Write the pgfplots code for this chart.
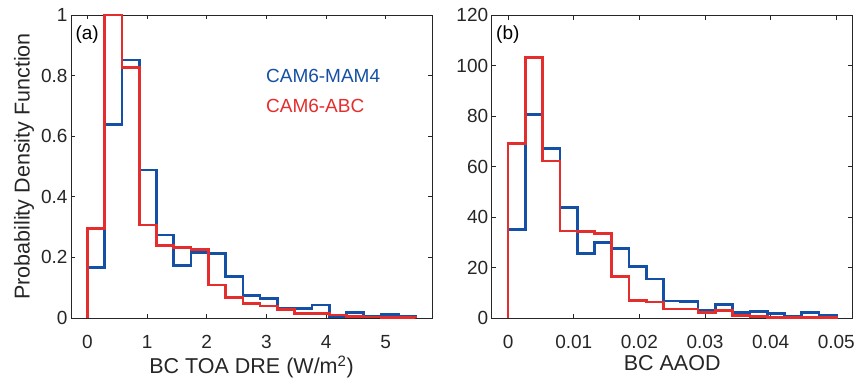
\documentclass[border=0pt]{standalone}
\usepackage{pgfplots}
\pgfplotsset{compat=1.18}
\usepackage{fontspec}
\setmainfont{Liberation Sans}
\definecolor{cblue}{RGB}{20,80,165}
\definecolor{cred}{RGB}{228,45,45}
\definecolor{axgray}{RGB}{38,38,38}
\pgfplotsset{
  myaxis/.style={
    scale only axis, width=361pt, height=303pt,
    axis line style={draw=axgray, line width=0.9pt},
    tick style={draw=axgray, line width=0.9pt},
    tick align=inside, major tick length=4.5pt,
    /pgf/number format/assume math mode=true,
    ticklabel style={font=\fontsize{19}{22}\selectfont, text=axgray},
    xticklabel style={yshift=-14pt},
    label style={font=\fontsize{21.5}{25}\selectfont, text=axgray},
    scaled x ticks=false, scaled y ticks=false,
    anchor=south west,
  },
  hist/.style={const plot, line width=2.7pt, line join=miter, no marks},
}
\begin{document}
\begin{tikzpicture}
\useasboundingbox (0,0) rectangle (862pt,381pt);
\begin{axis}[myaxis, at={(71pt,63pt)},
  xmin=-0.275, xmax=5.775, ymin=0, ymax=1,
  xtick={0,1,2,3,4,5}, xticklabels={0,1,2,3,4,5},
  ytick={0,0.2,0.4,0.6,0.8,1}, yticklabels={0,0.2,0.4,0.6,0.8,1},
  xlabel={BC TOA DRE (W/m\textsuperscript{2})},
  ylabel={Probability Density Function},
]
\addplot[hist, cblue] coordinates {
(0,0) (0,0.167) (0.2895,0.639) (0.5789,0.851) (0.8684,0.488) (1.1579,0.274)
(1.4474,0.173) (1.7368,0.216) (2.0263,0.213) (2.3158,0.136) (2.6053,0.074)
(2.8947,0.065) (3.1842,0.033) (3.4737,0.032) (3.7632,0.043) (4.0526,0.003)
(4.3421,0.019) (4.6316,0.007) (4.9211,0.012) (5.2105,0.004) (5.5,0.004) (5.5,0)};
\addplot[hist, cred] coordinates {
(0,0) (0,0.295) (0.2895,1.0) (0.5789,0.826) (0.8684,0.307) (1.1579,0.239)
(1.4474,0.233) (1.7368,0.226) (2.0263,0.109) (2.3158,0.067) (2.6053,0.048)
(2.8947,0.040) (3.1842,0.029) (3.4737,0.015) (3.7632,0.015) (4.0526,0.010)
(4.3421,0.005) (4.6316,0.003) (4.9211,0.002) (5.2105,0.002) (5.5,0.002) (5.5,0)};
\node[anchor=north west, font=\fontsize{19}{22}\selectfont, text=black, inner sep=0pt] at (rel axis cs:0.012,0.965) {(a)};
\node[anchor=west, font=\fontsize{19}{22}\selectfont, text=cblue, inner sep=0pt] at (rel axis cs:0.54,0.80) {CAM6-MAM4};
\node[anchor=west, font=\fontsize{19}{22}\selectfont, text=cred, inner sep=0pt] at (rel axis cs:0.54,0.70) {CAM6-ABC};
\end{axis}
\begin{axis}[myaxis, at={(491.7pt,63pt)},
  xmin=-0.0025, xmax=0.0525, ymin=0, ymax=120,
  xtick={0,0.01,0.02,0.03,0.04,0.05}, xticklabels={0,0.01,0.02,0.03,0.04,0.05},
  ytick={0,20,40,60,80,100,120}, yticklabels={0,20,40,60,80,100,120},
  xlabel={BC AAOD},
]
\addplot[hist, cblue] coordinates {
(0,0) (0,35.1) (0.002632,80.7) (0.005263,67.2) (0.007895,43.9) (0.010526,25.6)
(0.013158,29.8) (0.015789,27.5) (0.018421,20.3) (0.021053,15.5) (0.023684,6.7)
(0.026316,6.5) (0.028947,3.2) (0.031579,5.4) (0.034211,2.2) (0.036842,2.5)
(0.039474,1.8) (0.042105,0.5) (0.044737,2.2) (0.047368,1.2) (0.05,1.2) (0.05,0)};
\addplot[hist, cred] coordinates {
(0,0) (0,69.2) (0.002632,103.1) (0.005263,62.2) (0.007895,34.4) (0.010526,34.2)
(0.013158,33.5) (0.015789,16.5) (0.018421,7.0) (0.021053,6.3) (0.023684,3.6)
(0.026316,3.6) (0.028947,2.1) (0.031579,2.9) (0.034211,0.9) (0.036842,0.5)
(0.039474,0.2) (0.042105,0.1) (0.044737,0.1) (0.047368,0.1) (0.05,0.1) (0.05,0)};
\node[anchor=north west, font=\fontsize{19}{22}\selectfont, text=black, inner sep=0pt] at (rel axis cs:0.012,0.965) {(b)};
\end{axis}
\end{tikzpicture}
\end{document}
